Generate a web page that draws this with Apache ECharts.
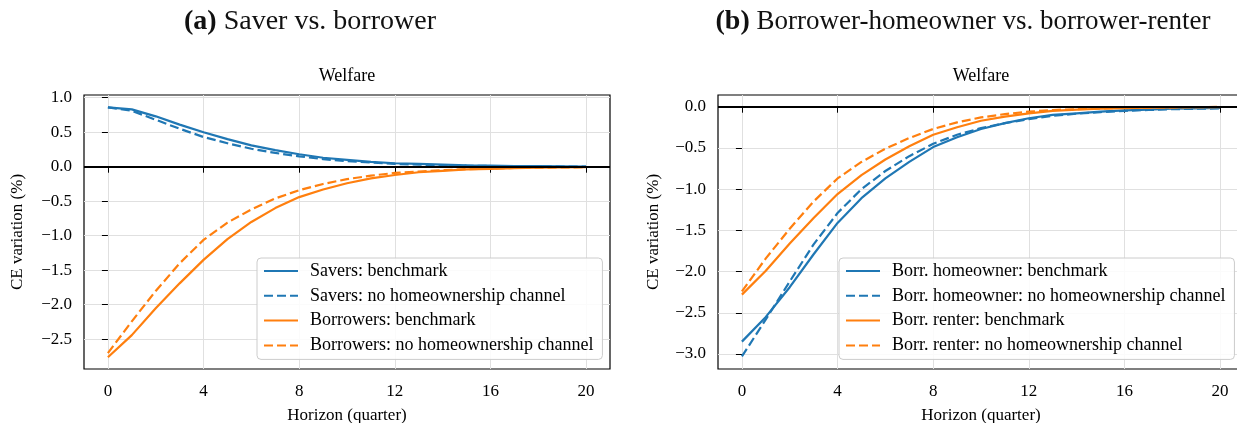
<!DOCTYPE html>
<html>
<head>
<meta charset="utf-8">
<script src="https://cdn.jsdelivr.net/npm/echarts@6/dist/echarts.min.js"></script>
<style>
  html, body { margin: 0; padding: 0; background: #fff; }
  #chart { width: 1237px; height: 423px; }
</style>
</head>
<body>
<div id="chart"></div>
<script>
// Horizon in quarters
const quarters = [0,1,2,3,4,5,6,7,8,9,10,11,12,13,14,15,16,17,18,19,20];

// Panel (a): savers vs. borrowers, CE variation (%)
const saversBenchmark = [0.86,0.83,0.73,0.61,0.50,0.40,0.31,0.24,0.18,0.13,0.10,0.07,0.05,0.04,0.03,0.02,0.015,0.01,0.008,0.005,0.003];
const saversNoChannel = [0.86,0.81,0.68,0.55,0.43,0.34,0.26,0.20,0.15,0.11,0.08,0.06,0.04,0.03,0.02,0.015,0.01,0.008,0.005,0.003,0.002];
const borrowersBenchmark = [-2.76,-2.44,-2.05,-1.69,-1.35,-1.05,-0.80,-0.60,-0.44,-0.33,-0.24,-0.17,-0.12,-0.08,-0.06,-0.04,-0.03,-0.02,-0.015,-0.01,-0.008];
const borrowersNoChannel = [-2.70,-2.24,-1.80,-1.40,-1.06,-0.81,-0.62,-0.46,-0.34,-0.25,-0.18,-0.13,-0.09,-0.07,-0.05,-0.035,-0.025,-0.018,-0.013,-0.01,-0.007];

// Panel (b): borrower-homeowners vs. borrower-renters, CE variation (%)
const homeownerBenchmark = [-2.85,-2.55,-2.19,-1.79,-1.41,-1.11,-0.87,-0.67,-0.49,-0.37,-0.27,-0.20,-0.14,-0.10,-0.08,-0.06,-0.045,-0.035,-0.025,-0.02,-0.015];
const homeownerNoChannel = [-3.03,-2.58,-2.12,-1.67,-1.29,-1.00,-0.78,-0.60,-0.45,-0.34,-0.26,-0.20,-0.15,-0.11,-0.085,-0.065,-0.05,-0.04,-0.03,-0.025,-0.02];
const renterBenchmark = [-2.28,-1.99,-1.66,-1.35,-1.06,-0.83,-0.64,-0.48,-0.34,-0.25,-0.17,-0.12,-0.08,-0.05,-0.035,-0.025,-0.018,-0.012,-0.009,-0.006,-0.004];
const renterNoChannel = [-2.24,-1.84,-1.48,-1.15,-0.87,-0.67,-0.51,-0.38,-0.27,-0.19,-0.13,-0.09,-0.06,-0.04,-0.03,-0.02,-0.014,-0.01,-0.007,-0.005,-0.003];

// Tick positions
const xTicks = [0,4,8,12,16,20];
const yTicksA = [-2.5,-2.0,-1.5,-1.0,-0.5,0.0,0.5,1.0];
const yTicksB = [-3.0,-2.5,-2.0,-1.5,-1.0,-0.5,0.0];

const BLUE = '#1f77b4';
const ORANGE = '#ff7f0e';
const SERIF = '"Liberation Serif", "DejaVu Serif", serif';

const pairs = vals => quarters.map((q, i) => [q, vals[i]]);
const fmt = v => v.toFixed(1).replace('-', '\u2212');

function line(name, vals, color, dashed, gi) {
  return {
    type: 'line', name, data: pairs(vals),
    xAxisIndex: gi, yAxisIndex: gi,
    symbol: 'none', smooth: false,
    lineStyle: { color, width: 2.2, type: dashed ? [9, 4] : 'solid' },
    itemStyle: { color },
    z: 3
  };
}

function zeroLine(gi) {
  return {
    type: 'line', data: [], xAxisIndex: gi, yAxisIndex: gi, z: 4,
    markLine: {
      silent: true, symbol: 'none', animation: false,
      label: { show: false },
      lineStyle: { color: '#000', width: 2, type: 'solid' },
      data: [{ yAxis: 0 }]
    }
  };
}

function xAxis(gi) {
  return {
    type: 'value', gridIndex: gi, min: -1, max: 21,
    name: 'Horizon (quarter)', nameLocation: 'middle', nameGap: 38,
    nameTextStyle: { fontFamily: SERIF, fontSize: 17, color: '#000' },
    axisLine: { show: false },
    axisTick: { show: true, length: 6, customValues: xTicks, lineStyle: { color: '#000', width: 1 } },
    axisLabel: { customValues: xTicks, margin: 14, fontFamily: SERIF, fontSize: 17, color: '#000', formatter: v => String(v) },
    splitLine: { show: true, lineStyle: { color: '#e0e0e0', width: 1 } }
  };
}

function yAxis(gi, min, max, ticks, gap) {
  return {
    type: 'value', gridIndex: gi, min, max,
    name: 'CE variation (%)', nameLocation: 'middle', nameGap: gap, nameRotate: 90,
    nameTextStyle: { fontFamily: SERIF, fontSize: 17, color: '#000' },
    axisLine: { show: false },
    axisTick: { show: true, length: 6, customValues: ticks, lineStyle: { color: '#000', width: 1 } },
    axisLabel: { customValues: ticks, margin: 12, fontFamily: SERIF, fontSize: 17, color: '#000', formatter: fmt },
    splitLine: { show: true, lineStyle: { color: '#e0e0e0', width: 1 } }
  };
}

function legend(left, names) {
  return {
    orient: 'vertical', left, top: 258,
    data: names,
    itemWidth: 34, itemHeight: 14, itemGap: 6.8,
    padding: [4, 9, 5, 6],
    backgroundColor: 'rgba(255,255,255,0.85)',
    borderColor: '#cccccc', borderWidth: 1, borderRadius: 4,
    itemStyle: { opacity: 0 },
    textStyle: { fontFamily: SERIF, fontSize: 18, color: '#000', padding: [0, 0, 0, 7], lineHeight: 18 },
    selectedMode: false
  };
}

const namesA = ['Savers: benchmark', 'Savers: no homeownership channel', 'Borrowers: benchmark', 'Borrowers: no homeownership channel'];
const namesB = ['Borr. homeowner: benchmark', 'Borr. homeowner: no homeownership channel', 'Borr. renter: benchmark', 'Borr. renter: no homeownership channel'];

const titleRich = { b: { fontWeight: 'bold', fontFamily: SERIF, fontSize: 28, fill: '#111' } };

const gridBase = { width: 526, height: 274, top: 95, show: true, borderColor: '#000', borderWidth: 1.2, backgroundColor: 'transparent', outerBoundsMode: 'none', containLabel: false };

const chart = echarts.init(document.getElementById('chart'), null, { renderer: 'canvas' });
chart.setOption({
  animation: false,
  backgroundColor: '#fff',
  grid: [
    Object.assign({ left: 84 }, gridBase),
    Object.assign({ left: 718 }, gridBase)
  ],
  xAxis: [xAxis(0), xAxis(1)],
  yAxis: [yAxis(0, -2.931, 1.039, yTicksA, 58), yAxis(1, -3.182, 0.142, yTicksB, 56)],
  legend: [legend(257, namesA), legend(839, namesB)],
  graphic: [
    { type: 'text', x: 310, y: 22, style: { text: '{b|(a)} Saver vs. borrower', rich: titleRich, fontFamily: SERIF, fontSize: 28, fill: '#111', align: 'center', verticalAlign: 'middle' } },
    { type: 'text', x: 963, y: 22, style: { text: '{b|(b)} Borrower-homeowner vs. borrower-renter', rich: titleRich, fontFamily: SERIF, fontSize: 27, fill: '#111', align: 'center', verticalAlign: 'middle' } },
    { type: 'text', x: 347, y: 76, style: { text: 'Welfare', fontFamily: SERIF, fontSize: 18, fill: '#000', align: 'center', verticalAlign: 'middle' } },
    { type: 'text', x: 981, y: 76, style: { text: 'Welfare', fontFamily: SERIF, fontSize: 18, fill: '#000', align: 'center', verticalAlign: 'middle' } }
  ],
  series: [
    zeroLine(0),
    line(namesA[0], saversBenchmark, BLUE, false, 0),
    line(namesA[1], saversNoChannel, BLUE, true, 0),
    line(namesA[2], borrowersBenchmark, ORANGE, false, 0),
    line(namesA[3], borrowersNoChannel, ORANGE, true, 0),
    zeroLine(1),
    line(namesB[0], homeownerBenchmark, BLUE, false, 1),
    line(namesB[1], homeownerNoChannel, BLUE, true, 1),
    line(namesB[2], renterBenchmark, ORANGE, false, 1),
    line(namesB[3], renterNoChannel, ORANGE, true, 1)
  ]
});
</script>
</body>
</html>
